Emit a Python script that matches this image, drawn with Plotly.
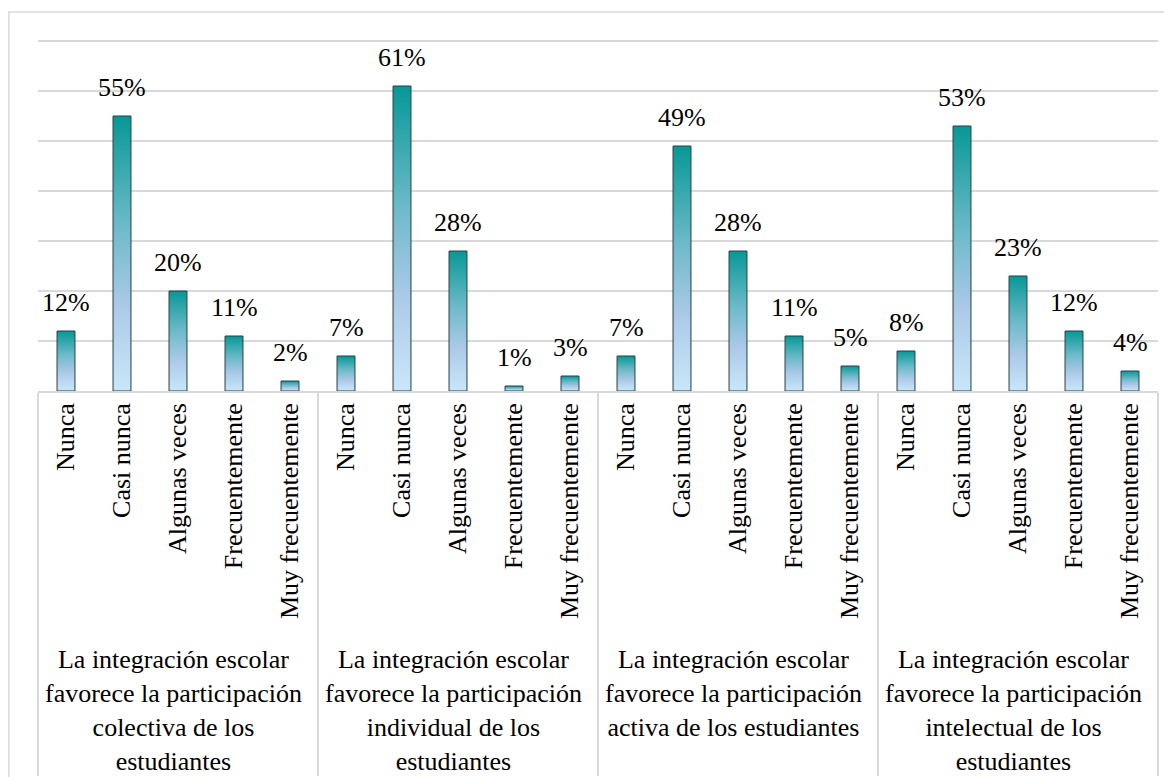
import plotly.graph_objects as go

# Datos del gráfico
grupos = [
    "La integración escolar<br>favorece la participación<br>colectiva de los<br>estudiantes",
    "La integración escolar<br>favorece la participación<br>individual de los<br>estudiantes",
    "La integración escolar<br>favorece la participación<br>activa de los estudiantes",
    "La integración escolar<br>favorece la participación<br>intelectual de los<br>estudiantes",
]
respuestas = ["Nunca", "Casi nunca", "Algunas veces", "Frecuentemente", "Muy frecuentemente"]

colectiva = [0.12, 0.55, 0.20, 0.11, 0.02]
individual = [0.07, 0.61, 0.28, 0.01, 0.03]
activa = [0.07, 0.49, 0.28, 0.11, 0.05]
intelectual = [0.08, 0.53, 0.23, 0.12, 0.04]

valores = colectiva + individual + activa + intelectual
nivel_grupo = [g for g in grupos for _ in respuestas]
nivel_resp = respuestas * len(grupos)

FUENTE = "Liberation Serif"
GRIS = "#d9d9d9"
ANCHO = 0.32
gradiente = [[0, "#c9e7f9"], [0.3, "#adcae8"], [0.6, "#6dbac9"], [1, "#079896"]]

fig = go.Figure()

# Barra invisible: solo sirve para construir el eje multicategoría
fig.add_trace(go.Bar(
    x=[nivel_grupo, nivel_resp],
    y=valores,
    marker=dict(color="rgba(0,0,0,0)", line=dict(width=0)),
    hoverinfo="skip",
    showlegend=False,
))

# Barras con degradado vertical (polígonos rellenos en un eje numérico superpuesto)
for i, v in enumerate(valores):
    fig.add_trace(go.Scatter(
        x=[i - ANCHO / 2, i - ANCHO / 2, i + ANCHO / 2, i + ANCHO / 2, i - ANCHO / 2],
        y=[0, v, v, 0, 0],
        mode="lines",
        fill="toself",
        fillgradient=dict(type="vertical", colorscale=gradiente),
        line=dict(color="#243f48", width=1),
        xaxis="x2",
        yaxis="y",
        hoverinfo="skip",
        showlegend=False,
    ))
    fig.add_annotation(
        x=i, y=v, xref="x2", yref="y",
        text=f"{round(v * 100)}%",
        showarrow=False, yanchor="bottom", yshift=12,
        font=dict(family=FUENTE, size=26, color="#000000"),
    )

# Borde exterior del gráfico
fig.add_shape(
    type="rect", xref="paper", yref="paper",
    x0=-0.026, x1=1.03, y0=-1.3, y1=1.0676,
    line=dict(color=GRIS, width=1.5), fillcolor="rgba(0,0,0,0)",
    layer="below",
)

# La página HTML añade 8 px de margen al cuerpo, por eso 1164x769
fig.update_layout(
    width=1164,
    height=769,
    margin=dict(l=30, r=14, t=28, b=386),
    plot_bgcolor="white",
    paper_bgcolor="white",
    font=dict(family=FUENTE, size=26, color="#000000"),
    xaxis=dict(
        type="multicategory",
        range=[-0.5, 19.5],
        automargin=False,
        tickangle=-90,
        tickfont=dict(family=FUENTE, size=26, color="#000000"),
        showline=True,
        linecolor=GRIS,
        linewidth=1.5,
        showgrid=False,
        ticks="",
        showdividers=True,
        dividercolor=GRIS,
        dividerwidth=1.5,
    ),
    xaxis2=dict(
        overlaying="x",
        range=[-0.5, 19.5],
        visible=False,
        anchor="y",
    ),
    yaxis=dict(
        range=[0, 0.71],
        dtick=0.1,
        automargin=False,
        showticklabels=False,
        showgrid=True,
        gridcolor=GRIS,
        gridwidth=1.5,
        zeroline=False,
    ),
)

fig.write_html("out.html")
